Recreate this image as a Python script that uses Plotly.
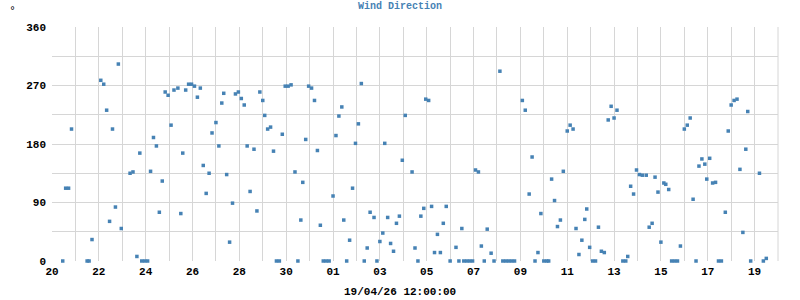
import plotly.graph_objects as go

# hours since the start of the axis (day "20" at 00:00)
hours = [11, 14, 17, 20, 36, 38, 41, 50, 53, 56, 59, 62, 65, 68, 71, 80, 83, 87, 90, 92, 95, 98,
         101, 104, 107, 110, 113, 116, 119, 122, 125, 129, 132, 134, 137, 140, 143, 146, 149, 152,
         155, 158, 161, 164, 168, 171, 174, 176, 179, 182, 185, 188, 191, 194, 197, 200, 203, 207,
         210, 213, 216, 218, 221, 224, 227, 230, 233, 236, 239, 242, 245, 249, 252, 255, 257, 260,
         263, 266, 269, 272, 275, 278, 281, 284, 288, 291, 294, 297, 299, 302, 305, 308, 311, 314,
         317, 320, 323, 326, 330, 333, 336, 339, 341, 344, 347, 350, 353, 356, 359, 362, 369, 372,
         375, 378, 381, 383, 386, 389, 392, 395, 398, 401, 404, 408, 414, 417, 420, 422, 425, 428,
         431, 434, 437, 440, 443, 446, 450, 453, 459, 462, 465, 468, 471, 474, 482, 485, 489, 492,
         495, 498, 501, 504, 507, 509, 512, 515, 518, 521, 524, 528, 531, 534, 537, 540, 543, 546,
         548, 551, 554, 557, 560, 563, 566, 570, 573, 576, 579, 585, 588, 590, 593, 596, 599, 602,
         605, 609, 612, 615, 618, 621, 624, 627, 629, 632, 635, 638, 641, 644, 648, 651, 654, 657,
         660, 663, 666, 669, 671, 674, 677, 680, 683, 686, 690, 693, 696, 699, 702, 705, 708, 711,
         713, 716, 725, 729, 732]

direction = [0, 112, 112, 203, 0, 0, 33, 278, 272, 232, 61, 203, 83, 303, 50, 135, 137, 7, 166, 0,
             0, 0, 138, 190, 177, 75, 123, 260, 255, 209, 263, 266, 73, 166, 263, 272, 272, 269,
             252, 266, 147, 104, 135, 197, 213, 177, 243, 258, 133, 29, 89, 257, 260, 250, 240, 177,
             107, 172, 77, 260, 247, 224, 203, 206, 169, 0, 0, 195, 269, 269, 271, 137, 0, 63, 121,
             187, 269, 266, 247, 170, 55, 0, 0, 0, 100, 193, 223, 237, 63, 0, 32, 112, 181, 211,
             273, 0, 20, 75, 67, 0, 30, 43, 181, 67, 27, 15, 58, 69, 155, 224, 137, 20, 0, 69, 81,
             249, 247, 84, 13, 41, 13, 58, 84, 0, 21, 0, 50, 0, 0, 0, 0, 140, 137, 23, 0, 49, 12, 0,
             292, 0, 0, 0, 0, 0, 247, 232, 103, 160, 0, 13, 73, 0, 0, 0, 126, 93, 53, 63, 138, 200,
             209, 203, 50, 10, 32, 64, 80, 21, 0, 0, 52, 15, 13, 217, 238, 220, 232, 0, 0, 7, 115,
             103, 140, 133, 132, 132, 52, 58, 129, 106, 29, 120, 118, 110, 0, 0, 0, 23, 203, 209,
             220, 95, 0, 146, 157, 149, 126, 158, 120, 121, 0, 0, 75, 200, 240, 247, 249, 141, 44,
             172, 230, 0, 135, 0, 4]

x_tick_hours = [0, 48, 96, 144, 192, 240, 288, 336, 384, 432, 480, 528, 576, 624, 672, 720]
x_tick_labels = ["20", "22", "24", "26", "28", "30", "01", "03", "05", "07", "09", "11", "13",
                 "15", "17", "19"]
y_ticks = [0, 90, 180, 270, 360]

title_text = "Wind Direction"
x_title = "19/04/26 12:00:00"
unit = "°"

MONO = "Liberation Mono, DejaVu Sans Mono, monospace"
BLUE = "#4682b4"
GRID = "#d6d6d6"

fig = go.Figure()
fig.add_trace(go.Scatter(
    x=hours, y=direction, mode="markers",
    marker=dict(symbol="square", size=3.5, color=BLUE, line=dict(width=0)),
    cliponaxis=False, showlegend=False,
))

fig.update_layout(
    width=800, height=300,
    margin=dict(l=52, r=22, t=27, b=39),
    paper_bgcolor="white", plot_bgcolor="white",
    font=dict(family=MONO, color="black"),
    xaxis=dict(
        range=[0, 744], tickmode="array", tickvals=x_tick_hours, ticktext=x_tick_labels,
        showgrid=True, gridcolor=GRID, gridwidth=1, zeroline=False, showline=False,
        ticks="", tickfont=dict(family=MONO, size=11, weight="bold", color="black"),
        minor=dict(tickmode="linear", tick0=0, dtick=24, showgrid=True, gridcolor=GRID, gridwidth=1),
        ticklabelstandoff=2,
    ),
    yaxis=dict(
        range=[0, 360], tickmode="array", tickvals=y_ticks,
        showgrid=True, gridcolor=GRID, gridwidth=1, zeroline=False, showline=False,
        ticks="", tickfont=dict(family=MONO, size=11, weight="bold", color="black"),
        minor=dict(tickmode="linear", tick0=0, dtick=45, showgrid=True, gridcolor=GRID, gridwidth=1),
        ticklabelstandoff=5,
    ),
    shapes=[dict(type="line", xref="paper", yref="paper", x0=1, x1=1, y0=0, y1=1,
                 line=dict(color=GRID, width=1))],
    annotations=[
        dict(text=title_text, xref="paper", yref="paper", x=(400 - 52) / 726, y=1,
             yshift=21, showarrow=False, xanchor="center", yanchor="middle",
             font=dict(family=MONO, size=10, weight="bold", color=BLUE)),
        dict(text=x_title, xref="paper", yref="paper", x=(400 - 52) / 726, y=0,
             yshift=-31, showarrow=False, xanchor="center", yanchor="middle",
             font=dict(family=MONO, size=11, weight="bold", color="black")),
        dict(text=unit, xref="paper", yref="paper", x=-40 / 726, y=1,
             yshift=17, showarrow=False, xanchor="center", yanchor="middle",
             font=dict(family="DejaVu Sans", size=10, color="black")),
    ],
)

fig.write_html("out.html")
